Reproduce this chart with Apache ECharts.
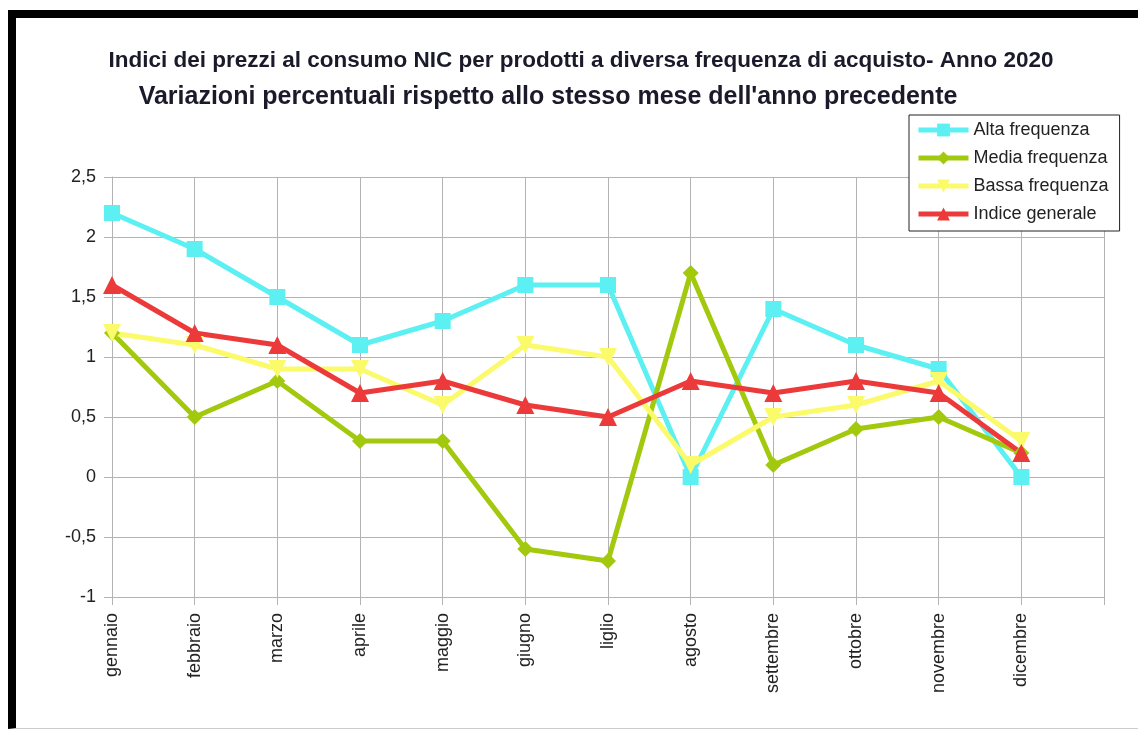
<!DOCTYPE html>
<html>
<head>
<meta charset="utf-8">
<script src="https://cdn.jsdelivr.net/npm/echarts@6/dist/echarts.min.js"></script>
<style>
  html, body { margin: 0; padding: 0; background: #fff; }
  #wrap { position: relative; width: 1138px; height: 731px; overflow: hidden; }
  #chart { width: 1138px; height: 731px; }
  #frame {
    position: absolute; left: 8px; top: 10px; width: 1200px; height: 719px;
    border-top: 8px solid #000; border-left: 8px solid #000;
    border-bottom: 1px solid #ccc; box-sizing: border-box; pointer-events: none;
  }
</style>
</head>
<body>
<div id="wrap">
  <div id="chart"></div>
  <div id="frame"></div>
</div>
<script>
  // mesi (ultimo slot vuoto come nel grafico originale)
  var mesi = ['gennaio', 'febbraio', 'marzo', 'aprile', 'maggio', 'giugno', 'liglio',
              'agosto', 'settembre', 'ottobre', 'novembre', 'dicembre', ''];
  var altaFreq   = [2.2, 1.9, 1.5, 1.1, 1.3, 1.6, 1.6, 0, 1.4, 1.1, 0.9, 0];
  var mediaFreq  = [1.2, 0.5, 0.8, 0.3, 0.3, -0.6, -0.7, 1.7, 0.1, 0.4, 0.5, 0.2];
  var bassaFreq  = [1.2, 1.1, 0.9, 0.9, 0.6, 1.1, 1.0, 0.1, 0.5, 0.6, 0.8, 0.3];
  var indiceGen  = [1.6, 1.2, 1.1, 0.7, 0.8, 0.6, 0.5, 0.8, 0.7, 0.8, 0.7, 0.2];

  var font = '"Liberation Sans", Arial, sans-serif';
  var gridColor = '#b3b3b3';

  var myChart = echarts.init(document.getElementById('chart'));
  myChart.setOption({
    animation: false,
    textStyle: { fontFamily: font },
    title: [{
      text: 'Indici dei prezzi al consumo NIC per prodotti a diversa frequenza di acquisto- Anno 2020',
      left: 576, top: 44, textAlign: 'center',
      textStyle: { fontSize: 22.5, fontWeight: 'bold', color: '#1a1a2a', fontFamily: font }
    }, {
      text: "Variazioni percentuali rispetto allo stesso mese dell'anno precedente",
      left: 543, top: 80, textAlign: 'center',
      textStyle: { fontSize: 25, fontWeight: 'bold', color: '#1a1a2a', fontFamily: font }
    }],
    legend: {
      orient: 'vertical',
      left: 909, top: 115,
      padding: [6, 11, 8, 7],
      itemWidth: 50, itemHeight: 16, itemGap: 10,
      borderColor: '#222', borderWidth: 1,
      backgroundColor: '#fff',
      lineStyle: { width: 5 },
      textStyle: { fontSize: 18, color: '#222', fontFamily: font }
    },
    grid: { left: 112, right: 34, top: 177, bottom: 134 },
    xAxis: {
      type: 'category',
      data: mesi,
      boundaryGap: false,
      axisLine: { onZero: false, lineStyle: { color: gridColor } },
      axisTick: { length: 8, lineStyle: { color: gridColor } },
      splitLine: { show: true, lineStyle: { color: gridColor } },
      axisLabel: { rotate: 90, margin: 16, fontSize: 18, color: '#222', interval: 0 }
    },
    yAxis: {
      type: 'value',
      min: -1, max: 2.5, interval: 0.5,
      axisLine: { show: true, lineStyle: { color: gridColor } },
      axisTick: { show: true, length: 8, lineStyle: { color: gridColor } },
      splitLine: { lineStyle: { color: gridColor } },
      axisLabel: {
        fontSize: 18, color: '#222', margin: 16,
        formatter: function (v) { return String(v).replace('.', ','); }
      }
    },
    series: [{
      name: 'Alta frequenza', type: 'line', data: altaFreq,
      symbol: 'rect', symbolSize: 16,
      lineStyle: { width: 5, color: '#5cf0f2' },
      itemStyle: { color: '#5cf0f2' }
    }, {
      name: 'Media frequenza', type: 'line', data: mediaFreq,
      symbol: 'diamond', symbolSize: 16,
      lineStyle: { width: 5, color: '#a3c90f' },
      itemStyle: { color: '#a3c90f' }
    }, {
      name: 'Bassa frequenza', type: 'line', data: bassaFreq,
      symbol: 'triangle', symbolRotate: 180, symbolSize: 18,
      lineStyle: { width: 5, color: '#fafa6a' },
      itemStyle: { color: '#fafa6a' }
    }, {
      name: 'Indice generale', type: 'line', data: indiceGen,
      symbol: 'triangle', symbolSize: 18,
      lineStyle: { width: 5, color: '#ec3a3a' },
      itemStyle: { color: '#ec3a3a' }
    }]
  });
</script>
</body>
</html>
